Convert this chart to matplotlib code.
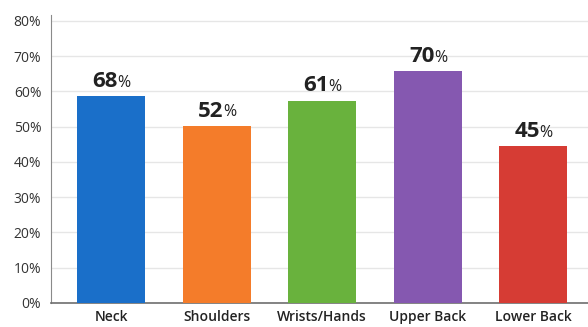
import matplotlib
matplotlib.use('Agg')
import matplotlib.pyplot as plt
import numpy as np

# data (bar heights as drawn, labels as printed)
categories = ['Neck', 'Shoulders', 'Wrists/Hands', 'Upper Back', 'Lower Back']
bar_heights = [58.7, 50.3, 57.4, 65.7, 44.6]
value_labels = ['68', '52', '61', '70', '45']
colors = ['#1a6fc9', '#f47c2a', '#69b23d', '#8558b0', '#d63c34']
yticks = [0, 10, 20, 30, 40, 50, 60, 70, 80]

plt.rcParams['font.family'] = ['Open Sans', 'DejaVu Sans']

fig = plt.figure(figsize=(5.88, 3.27), dpi=100)
ax = fig.add_axes([51/588, 24/327, 1 - 51/588, 288/327])

x = np.arange(len(categories))
ax.bar(x, bar_heights, width=0.645, color=colors, zorder=3)

ax.set_xlim(-0.569, 4.52)
ax.set_ylim(0, 81.7)
ax.set_yticks(yticks)
ax.set_yticklabels([str(t) + '%' for t in yticks], fontsize=10, color='#333333')
ax.set_xticks(x)
ax.set_xticklabels(categories, fontsize=10, fontweight='semibold', color='#222222')
ax.tick_params(axis='both', length=0)
ax.tick_params(axis='y', pad=7)
ax.tick_params(axis='x', pad=5)

ax.grid(axis='y', color='#e6e6e6', linewidth=1, zorder=0)
for s in ['top', 'right']:
    ax.spines[s].set_visible(False)
ax.spines['left'].set_color('#8a8a8a')
ax.spines['bottom'].set_color('#6e6e6e')
ax.spines['bottom'].set_linewidth(1.2)

# value labels: bold number + smaller percent sign
for xi, h, lab in zip(x, bar_heights, value_labels):
    ax.annotate(lab, (xi, h), xytext=(5, 3), textcoords='offset points',
                ha='right', va='bottom', fontsize=16, fontweight='bold', color='#222222')
    ax.annotate('%', (xi, h), xytext=(4.6, 3.8), textcoords='offset points',
                ha='left', va='bottom', fontsize=11.5, color='#222222')

plt.savefig('out.png', dpi=100)
